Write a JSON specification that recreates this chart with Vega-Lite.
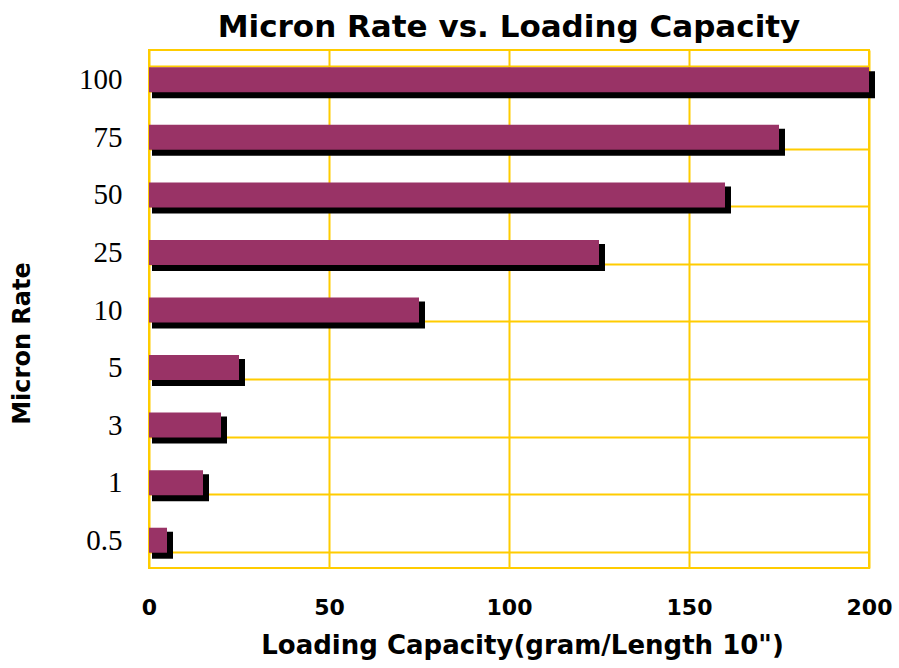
{
  "$schema": "https://vega.github.io/schema/vega-lite/v6.json",
  "width": 720,
  "height": 518,
  "autosize": "none",
  "padding": {"left": 149, "top": 50, "right": 30, "bottom": 100},
  "background": "white",
  "title": {
    "text": "Micron Rate vs. Loading Capacity",
    "font": "DejaVu Sans",
    "fontSize": 31,
    "fontWeight": "bold",
    "color": "black",
    "anchor": "middle",
    "offset": -8
  },
  "config": {
    "view": {"stroke": "#FFCC00", "strokeWidth": 2},
    "axis": {"gridColor": "#FFCC00", "gridWidth": 2, "gridOpacity": 1, "domain": false, "ticks": false}
  },
  "data": {
    "values": [
      {"rate": "100", "capacity": 200},
      {"rate": "75", "capacity": 175},
      {"rate": "50", "capacity": 160},
      {"rate": "25", "capacity": 125},
      {"rate": "10", "capacity": 75},
      {"rate": "5", "capacity": 25},
      {"rate": "3", "capacity": 20},
      {"rate": "1", "capacity": 15},
      {"rate": "0.5", "capacity": 5}
    ]
  },
  "encoding": {
    "y": {
      "field": "rate",
      "type": "nominal",
      "sort": ["100", "75", "50", "25", "10", "5", "3", "1", "0.5"],
      "scale": {"paddingInner": 0.566, "paddingOuter": 0.283},
      "axis": {
        "title": "Micron Rate",
        "titleFont": "DejaVu Sans",
        "titleFontSize": 24,
        "titleFontWeight": "bold",
        "titleColor": "black",
        "titleY": 293,
        "titleX": -127,
        "titleBaseline": "middle",
        "labelFont": "Liberation Serif",
        "labelFontSize": 29,
        "labelColor": "black",
        "labelPadding": 27,
        "labelOffset": 1,
        "tickBand": "extent",
        "grid": true
      }
    },
    "x": {
      "field": "capacity",
      "type": "quantitative",
      "scale": {"domain": [0, 200], "nice": false},
      "axis": {
        "values": [0, 50, 100, 150, 200],
        "title": "Loading Capacity(gram/Length 10\")",
        "titleFont": "DejaVu Sans",
        "titleFontSize": 26,
        "titleFontWeight": "bold",
        "titleColor": "black",
        "titleX": 373,
        "titlePadding": 14,
        "labelFont": "DejaVu Sans",
        "labelFontSize": 22,
        "labelFontWeight": "bold",
        "labelColor": "black",
        "labelPadding": 29,
        "labelFlush": false,
        "grid": true
      }
    }
  },
  "layer": [
    {
      "mark": {"type": "bar", "color": "black", "xOffset": 6, "x2Offset": 3, "yOffset": 6, "height": 27},
      "encoding": {"x2": {"datum": 0}}
    },
    {"mark": {"type": "bar", "color": "#993366", "yOffset": 1, "height": 25}}
  ]
}
